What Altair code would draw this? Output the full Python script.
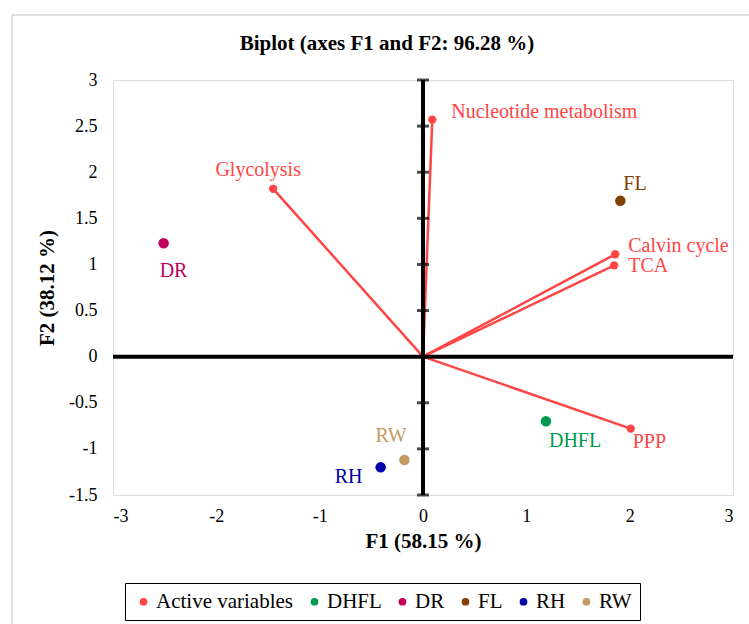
import altair as alt
import pandas as pd

# ---- data ----
var_names = ["Glycolysis", "Nucleotide metabolism", "Calvin cycle", "TCA", "PPP"]
var_f1 = [-1.45, 0.09, 1.86, 1.85, 2.01]
var_f2 = [1.82, 2.57, 1.11, 0.99, -0.78]

obs_names = ["DHFL", "DR", "FL", "RH", "RW"]
obs_f1 = [1.19, -2.51, 1.91, -0.41, -0.18]
obs_f2 = [-0.70, 1.23, 1.69, -1.20, -1.12]

legend_labels = ["Active variables", "DHFL", "DR", "FL", "RH", "RW"]
legend_colors = ["#ff4545", "#00994f", "#c0005c", "#804000", "#0000a8", "#c49a60"]

x_ticks = [-3, -2, -1, 0, 1, 2, 3]
y_ticks = [-1.5, -1, -0.5, 0, 0.5, 1, 1.5, 2, 2.5, 3]
axis_mark_ticks = [-1.5, -1, -0.5, 0.5, 1, 1.5, 2, 2.5, 3]

FONT = "Liberation Serif"

var_df = pd.DataFrame({"name": var_names, "f1": var_f1, "f2": var_f2,
                       "group": ["Active variables"] * len(var_names),
                       "origin": [0.0] * len(var_names)})
obs_df = pd.DataFrame({"name": obs_names, "f1": obs_f1, "f2": obs_f2,
                       "group": obs_names})
zero_df = pd.DataFrame({"v": [0.0]})
tick_df = pd.DataFrame({"y": axis_mark_ticks, "x": [0.0] * len(axis_mark_ticks)})

xscale = alt.Scale(domain=[-3, 3], nice=False, zero=False)
yscale = alt.Scale(domain=[-1.5, 3], nice=False, zero=False)
cscale = alt.Scale(domain=legend_labels, range=legend_colors)

xaxis = alt.Axis(values=x_ticks, title="F1 (58.15 %)", grid=False, ticks=False, domain=False,
                 labelFont=FONT, labelFontSize=18, labelColor="black", labelPadding=12,
                 labelExpr="'' + datum.value",
                 titleFont=FONT, titleFontSize=21, titleFontWeight="bold", titleColor="black",
                 titlePadding=5)
yaxis = alt.Axis(values=y_ticks, title="F2 (38.12 %)", grid=False, ticks=False, domain=False,
                 labelFont=FONT, labelFontSize=18, labelColor="black", labelPadding=16,
                 labelExpr="'' + datum.value",
                 titleFont=FONT, titleFontSize=21, titleFontWeight="bold", titleColor="black",
                 titlePadding=11)

base_x = alt.X("f1:Q", scale=xscale, axis=xaxis)
base_y = alt.Y("f2:Q", scale=yscale, axis=yaxis)

# zero lines
vline = alt.Chart(zero_df).mark_rule(color="black", strokeWidth=4).encode(
    x=alt.X("v:Q", scale=xscale, axis=xaxis))
hline = alt.Chart(zero_df).mark_rule(color="black", strokeWidth=4).encode(
    y=alt.Y("v:Q", scale=yscale, axis=yaxis))
ticks = alt.Chart(tick_df).mark_tick(color="black", orient="horizontal", size=12, thickness=3).encode(
    x=alt.X("x:Q", scale=xscale, axis=xaxis),
    y=alt.Y("y:Q", scale=yscale, axis=yaxis))

# vectors
vectors = alt.Chart(var_df).mark_rule(color=legend_colors[0], strokeWidth=2.5).encode(
    x=alt.X("origin:Q", scale=xscale, axis=xaxis),
    y=alt.Y("origin:Q", scale=yscale, axis=yaxis),
    x2="f1:Q", y2="f2:Q")

legend = alt.Legend(title=None, orient="none", legendX=12, legendY=503, direction="horizontal",
                    strokeColor="black", fillColor="white", padding=8,
                    symbolType="circle", symbolSize=60, symbolStrokeWidth=0,
                    labelFont=FONT, labelFontSize=21, labelColor="black", labelOffset=2,
                    columnPadding=10, symbolOpacity=1)

var_pts = alt.Chart(var_df).mark_circle(size=70, opacity=1).encode(
    x=base_x, y=base_y, color=alt.Color("group:N", scale=cscale, legend=legend))
obs_pts = alt.Chart(obs_df).mark_circle(size=110, opacity=1).encode(
    x=base_x, y=base_y, color=alt.Color("group:N", scale=cscale, legend=legend))


def label(df, name, dx, dy, align="left"):
    return alt.Chart(df).transform_filter(alt.datum.name == name).mark_text(
        font=FONT, fontSize=20, align=align, baseline="middle", dx=dx, dy=dy).encode(
        x=base_x, y=base_y, text="name:N",
        color=alt.Color("group:N", scale=cscale, legend=None))


labels = [
    label(var_df, "Glycolysis", -15, -19, "center"),
    label(var_df, "Nucleotide metabolism", 19, -8),
    label(var_df, "Calvin cycle", 13, -8),
    label(var_df, "TCA", 14, 1),
    label(var_df, "PPP", 2, 13),
    label(obs_df, "DR", -4, 28),
    label(obs_df, "FL", 3, -17),
    label(obs_df, "DHFL", 3, 20),
    label(obs_df, "RW", -29, -24),
    label(obs_df, "RH", -46, 10),
]

# light outer frame (decoration)
frame_left = alt.Chart(zero_df).mark_rule(color="#d4d4d4", strokeWidth=1.5).encode(
    x=alt.value(-101), y=alt.value(-65), y2=alt.value(545))
frame_top = alt.Chart(zero_df).mark_rule(color="#d4d4d4", strokeWidth=1.5).encode(
    x=alt.value(-101), x2=alt.value(640), y=alt.value(-65))

chart = alt.layer(frame_left, frame_top, vectors, vline, hline, ticks, var_pts, obs_pts, *labels).properties(
    width=620, height=415,
    title=alt.TitleParams("Biplot (axes F1 and F2: 96.28 %)", font=FONT, fontSize=21,
                          fontWeight="bold", color="black", anchor="middle", dx=-36, dy=40, offset=0),
    autosize=alt.AutoSizeParams(type="none"),
    padding={"left": 113, "top": 80, "right": 16, "bottom": 129},
).configure_view(stroke="black", strokeWidth=2).configure(background="white")

chart.save("out.html", embed_options={"renderer": "svg", "actions": False})
